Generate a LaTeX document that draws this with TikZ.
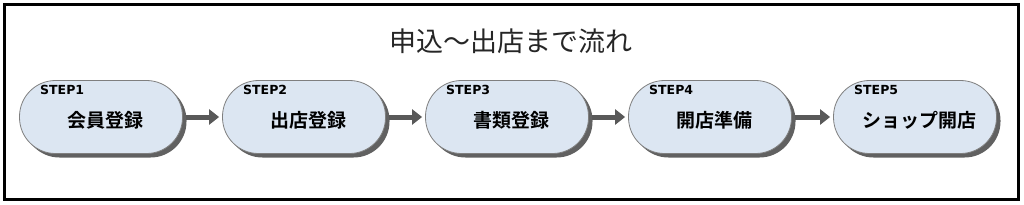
\documentclass[tikz,border=0pt]{standalone}
\usepackage{fontspec}
\usetikzlibrary{shadows,arrows.meta}
\newfontfamily\cjk{Noto Sans CJK JP}[BoldFont={Noto Sans CJK JP Bold}]
\newfontfamily\stepfont{DejaVu Sans}
\definecolor{pillfill}{HTML}{DCE6F2}
\definecolor{pillline}{HTML}{7F7F7F}
\definecolor{arrowgray}{HTML}{595959}
\begin{document}
\begin{tikzpicture}[x=1pt,y=-1pt,
  pill/.style={draw=pillline, line width=0.8pt, fill=pillfill, rounded corners=36pt,
    minimum width=163pt, minimum height=73pt, inner sep=0pt,
    general shadow={shadow xshift=4pt, shadow yshift=-4pt, fill=black!62, draw=none}},
  steplabel/.style={font=\stepfont\bfseries\fontsize{12.5}{14}\selectfont, anchor=west, inner sep=0pt},
  maintext/.style={font=\cjk\bfseries\fontsize{19}{22}\selectfont, inner sep=0pt},
  flow/.style={draw=arrowgray, line width=5pt, -{Triangle[length=10pt,width=15pt]}, shorten >=3pt, shorten <=3pt}
]
\useasboundingbox (0,0) rectangle (1024,204);
\fill[white] (0,0) rectangle (1024,204);
\draw[line width=2.4pt] (4.5,4.5) rectangle (1018.5,199.5);
\node[font=\cjk\fontsize{27}{30}\selectfont, text=black!85, inner sep=0pt] (title) at (511,41) {申込～出店まで流れ};
\foreach \i/\x/\t in {1/101/会員登録, 2/304/出店登録, 3/507/書類登録, 4/710/開店準備, 5/915/ショップ開店}{
  \node[pill] (p\i) at (\x,117) {};
  \node[maintext] (m\i) at (\x+4,120) {\t};
  \node[steplabel] (s\i) at (\x-61,90) {STEP\i};
}
\foreach \a/\b in {1/2,2/3,3/4,4/5}{
  \draw[flow] (p\a.east) -- (p\b.west);
}
\end{tikzpicture}
\end{document}
